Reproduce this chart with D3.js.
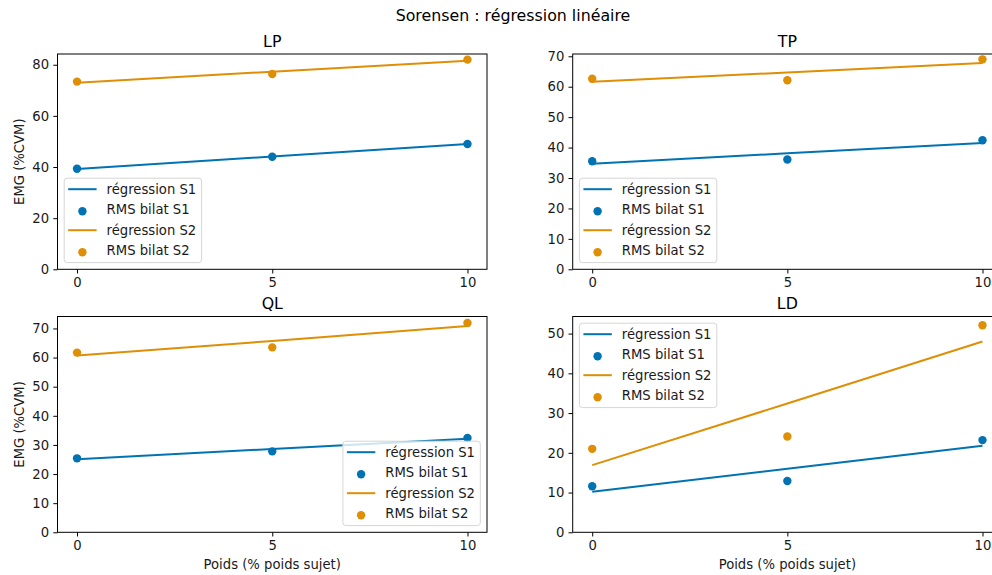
<!DOCTYPE html>
<html>
<head>
<meta charset="utf-8">
<script src="https://cdn.jsdelivr.net/npm/d3@7"></script>
<style>
  html, body { margin: 0; padding: 0; background: #fff; }
  svg { display: block; font-family: "DejaVu Sans", sans-serif; }
</style>
</head>
<body>
<svg id="chart" width="992" height="575"></svg>
<script>
// Weight applied, in % of the subject's body weight
const poids = [0, 5, 10];

// Muscle names, one per panel
const muscles = ["LP", "TP", "QL", "LD"];

// Bilateral RMS EMG (%CVM), subject 1
const rmsS1 = {
  LP: [39.3, 44.0, 49.0],
  TP: [35.5, 36.1, 42.4],
  QL: [25.4, 27.8, 32.4],
  LD: [11.6, 12.9, 23.2]
};
// Bilateral RMS EMG (%CVM), subject 2
const rmsS2 = {
  LP: [73.4, 76.4, 82.0],
  TP: [62.6, 62.1, 69.0],
  QL: [61.7, 63.5, 71.9],
  LD: [21.0, 24.1, 52.1]
};
// Fitted linear regression values at each weight, subject 1
const regS1 = {
  LP: [39.2, 44.1, 49.0],
  TP: [34.7, 38.1, 41.5],
  QL: [25.1, 28.6, 32.1],
  LD: [10.2, 16.0, 21.8]
};
// Fitted linear regression values at each weight, subject 2
const regS2 = {
  LP: [73.0, 77.3, 81.6],
  TP: [61.6, 64.7, 67.8],
  QL: [60.7, 65.7, 70.8],
  LD: [16.9, 32.4, 48.0]
};

// Y tick labels per panel
const yTicks = {
  LP: [0, 20, 40, 60, 80],
  TP: [0, 10, 20, 30, 40, 50, 60, 70],
  QL: [0, 10, 20, 30, 40, 50, 60, 70],
  LD: [0, 10, 20, 30, 40, 50]
};
const xTicks = [0, 5, 10];

const legendLabels = ["régression S1", "RMS bilat S1", "régression S2", "RMS bilat S2"];
const suptitle = "Sorensen : régression linéaire";
const yLabel = "EMG (%CVM)";
const xLabel = "Poids (% poids sujet)";

const colS1 = "#0173b2";
const colS2 = "#de8f05";

// Panel layout
const layout = {
  LP: { left: 57.5, right: 487, top: 54, bottom: 269.3, ymax: 84.2, legend: "lower left", ylab: true, xlab: false },
  TP: { left: 572.7, right: 1002, top: 54, bottom: 269.3, ymax: 70.75, legend: "lower left", ylab: false, xlab: false },
  QL: { left: 57.5, right: 487, top: 316.5, bottom: 532.3, ymax: 74.1, legend: "lower right", ylab: true, xlab: true },
  LD: { left: 572.7, right: 1002, top: 316.5, bottom: 532.3, ymax: 54.3, legend: "upper left", ylab: false, xlab: true }
};

const svg = d3.select("#chart");
const tickFont = 13.2;
const titleFont = 15.8;
const textCol = "#1a1a1a";

svg.append("text")
  .attr("x", 513).attr("y", 21)
  .attr("text-anchor", "middle")
  .attr("font-size", titleFont)
  .attr("fill", "#000")
  .text(suptitle);

muscles.forEach(m => {
  const L = layout[m];
  const x = d3.scaleLinear().domain([-0.5, 10.5]).range([L.left, L.right]);
  const y = d3.scaleLinear().domain([0, L.ymax]).range([L.bottom, L.top]);
  const g = svg.append("g");

  // x axis
  const xAxis = d3.axisBottom(x).tickValues(xTicks).tickSize(4.2).tickPadding(4.5).tickFormat(d3.format("d"));
  const gx = g.append("g").attr("transform", `translate(0,${L.bottom})`).call(xAxis);
  gx.select(".domain").remove();
  gx.selectAll(".tick line").attr("stroke", "#000").attr("stroke-width", 1);
  gx.selectAll(".tick text").attr("font-size", tickFont).attr("font-family", "DejaVu Sans").attr("fill", textCol);

  // y axis
  const yAxis = d3.axisLeft(y).tickValues(yTicks[m]).tickSize(4.2).tickPadding(4.2).tickFormat(d3.format("d"));
  const gy = g.append("g").attr("transform", `translate(${L.left},0)`).call(yAxis);
  gy.select(".domain").remove();
  gy.selectAll(".tick line").attr("stroke", "#000").attr("stroke-width", 1);
  gy.selectAll(".tick text").attr("font-size", tickFont).attr("font-family", "DejaVu Sans").attr("fill", textCol);

  // clip for plotted data
  const clipId = "clip-" + m;
  svg.append("clipPath").attr("id", clipId)
    .append("rect").attr("x", L.left).attr("y", L.top)
    .attr("width", L.right - L.left).attr("height", L.bottom - L.top);

  const plot = g.append("g").attr("clip-path", `url(#${clipId})`);
  const line = d3.line().x((d, i) => x(poids[i])).y(d => y(d));

  const series = [
    { reg: regS1[m], pts: rmsS1[m], col: colS1 },
    { reg: regS2[m], pts: rmsS2[m], col: colS2 }
  ];
  series.forEach(s => {
    plot.append("path").datum(s.reg)
      .attr("d", line)
      .attr("fill", "none")
      .attr("stroke", s.col)
      .attr("stroke-width", 2);
    plot.selectAll(null).data(s.pts).enter().append("circle")
      .attr("cx", (d, i) => x(poids[i]))
      .attr("cy", d => y(d))
      .attr("r", 4.2)
      .attr("fill", s.col);
  });

  // frame
  g.append("rect")
    .attr("x", L.left).attr("y", L.top)
    .attr("width", L.right - L.left).attr("height", L.bottom - L.top)
    .attr("fill", "none").attr("stroke", "#000").attr("stroke-width", 1);

  // panel title
  g.append("text")
    .attr("x", (L.left + L.right) / 2).attr("y", L.top - 7.4)
    .attr("text-anchor", "middle")
    .attr("font-size", titleFont)
    .attr("fill", "#000")
    .text(m);

  if (L.ylab) {
    g.append("text")
      .attr("transform", `translate(23.5,${(L.top + L.bottom) / 2}) rotate(-90)`)
      .attr("text-anchor", "middle")
      .attr("font-size", tickFont)
      .attr("fill", textCol)
      .text(yLabel);
  }
  if (L.xlab) {
    g.append("text")
      .attr("x", (L.left + L.right) / 2).attr("y", L.bottom + 37)
      .attr("text-anchor", "middle")
      .attr("font-size", tickFont)
      .attr("fill", textCol)
      .text(xLabel);
  }

  // legend
  const lw = 137.4, lh = 84.4, pad = 6.7;
  let lx, ly;
  if (L.legend === "lower left") { lx = L.left + pad; ly = L.bottom - pad - lh; }
  else if (L.legend === "lower right") { lx = L.right - pad - lw; ly = L.bottom - pad - lh; }
  else { lx = L.left + pad; ly = L.top + pad; }
  const leg = g.append("g").attr("transform", `translate(${lx},${ly})`);
  leg.append("rect")
    .attr("width", lw).attr("height", lh)
    .attr("rx", 3).attr("ry", 3)
    .attr("fill", "#fff").attr("fill-opacity", 0.8)
    .attr("stroke", "#d6d6d6").attr("stroke-width", 1);
  const rowY = [11, 31.5, 52, 72.5];
  const kinds = ["line", "dot", "line", "dot"];
  const cols = [colS1, colS1, colS2, colS2];
  legendLabels.forEach((lab, i) => {
    if (kinds[i] === "line") {
      leg.append("line")
        .attr("x1", 4).attr("x2", 32.4)
        .attr("y1", rowY[i]).attr("y2", rowY[i])
        .attr("stroke", cols[i]).attr("stroke-width", 2);
    } else {
      leg.append("circle")
        .attr("cx", 18.2).attr("cy", rowY[i] + 1.5).attr("r", 4.2)
        .attr("fill", cols[i]);
    }
    leg.append("text")
      .attr("x", 42.4).attr("y", rowY[i])
      .attr("dy", "0.36em")
      .attr("font-size", tickFont)
      .attr("fill", textCol)
      .text(lab);
  });
});
</script>
</body>
</html>
